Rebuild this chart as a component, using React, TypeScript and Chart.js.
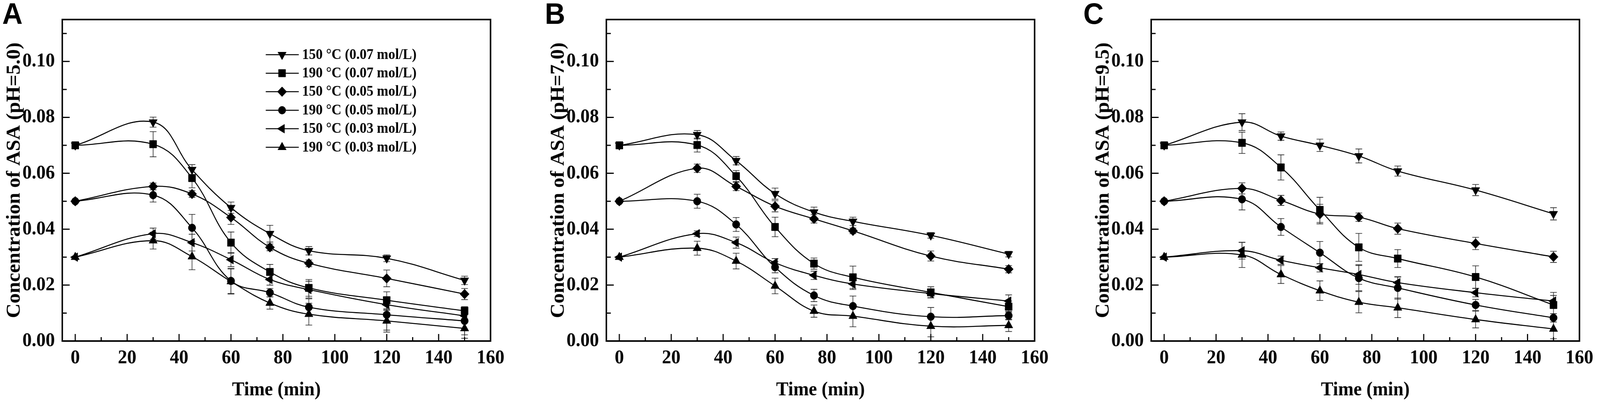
import { useEffect, useRef } from "react"
import { Chart, registerables } from "chart.js"
import { drawPoint } from "chart.js/helpers"

Chart.register(...registerables)

// sampling times (min)
const times = [0, 30, 45, 60, 75, 90, 120, 150]

const xTickValues = [0, 20, 40, 60, 80, 100, 120, 140, 160]
const xMinorValues = [10, 30, 50, 70, 90, 110, 130, 150]
const yTickValues = [0, 0.02, 0.04, 0.06, 0.08, 0.1]
const yMinorValues = [0.01, 0.03, 0.05, 0.07, 0.09, 0.11]

const seriesLabels = [
  "150 °C (0.07 mol/L)",
  "190 °C (0.07 mol/L)",
  "150 °C (0.05 mol/L)",
  "190 °C (0.05 mol/L)",
  "150 °C (0.03 mol/L)",
  "190 °C (0.03 mol/L)",
]

// pH = 5.0
const a150_07 = [0.07, 0.0783, 0.0613, 0.0477, 0.0384, 0.0323, 0.0296, 0.0217]
const a150_07Err = [0, 0.0018, 0.0018, 0.002, 0.003, 0.0015, 0.0012, 0.0015]
const a190_07 = [0.07, 0.0704, 0.0583, 0.0352, 0.0247, 0.019, 0.0146, 0.0108]
const a190_07Err = [0, 0.0045, 0.0035, 0.0038, 0.0027, 0.003, 0.003, 0.0015]
const a150_05 = [0.05, 0.0553, 0.0526, 0.0442, 0.0335, 0.0278, 0.0224, 0.0168]
const a150_05Err = [0, 0.0012, 0.0012, 0.0025, 0.0012, 0.0012, 0.003, 0.002]
const a190_05 = [0.05, 0.0522, 0.0405, 0.0215, 0.0173, 0.0121, 0.0094, 0.0072]
const a190_05Err = [0, 0.0025, 0.0048, 0.0045, 0.0015, 0.003, 0.0055, 0.005]
const a150_03 = [0.03, 0.0384, 0.0352, 0.0291, 0.022, 0.0184, 0.013, 0.009]
const a150_03Err = [0, 0.002, 0.003, 0.0025, 0.002, 0.003, 0.002, 0.002]
const a190_03 = [0.03, 0.0359, 0.0302, 0.0213, 0.0136, 0.0096, 0.0072, 0.0045]
const a190_03Err = [0, 0.003, 0.0047, 0.0045, 0.0022, 0.0039, 0.004, 0.0035]

// pH = 7.0
const b150_07 = [0.07, 0.0738, 0.0645, 0.0527, 0.0461, 0.0428, 0.0378, 0.0311]
const b150_07Err = [0, 0.0015, 0.0015, 0.002, 0.0018, 0.0015, 0.001, 0.001]
const b190_07 = [0.07, 0.0701, 0.059, 0.0408, 0.0277, 0.0228, 0.0174, 0.0123]
const b190_07Err = [0, 0.0025, 0.002, 0.0035, 0.002, 0.004, 0.002, 0.002]
const b150_05 = [0.05, 0.0618, 0.0553, 0.0482, 0.0437, 0.0394, 0.0304, 0.0257]
const b150_05Err = [0, 0.0015, 0.0015, 0.002, 0.0015, 0.001, 0.0018, 0.0013]
const b190_05 = [0.05, 0.05, 0.0417, 0.0264, 0.0163, 0.0125, 0.0087, 0.0091]
const b190_05Err = [0, 0.0025, 0.0025, 0.002, 0.0022, 0.0036, 0.0033, 0.0015]
const b150_03 = [0.03, 0.0384, 0.0352, 0.028, 0.0235, 0.0204, 0.017, 0.0143]
const b150_03Err = [0, 0.001, 0.002, 0.0015, 0.0015, 0.002, 0.0015, 0.0022]
const b190_03 = [0.03, 0.0332, 0.0286, 0.0197, 0.0107, 0.0089, 0.0053, 0.0056]
const b190_03Err = [0, 0.0025, 0.0028, 0.0028, 0.0022, 0.0038, 0.0038, 0.0022]

// pH = 9.5
const c150_07 = [0.07, 0.0783, 0.0733, 0.07, 0.0662, 0.0608, 0.054, 0.0455]
const c150_07Err = [0, 0.003, 0.0015, 0.0022, 0.0025, 0.0018, 0.002, 0.0022]
const c190_07 = [0.07, 0.0709, 0.0621, 0.0469, 0.0335, 0.0295, 0.0229, 0.0129]
const c190_07Err = [0, 0.0038, 0.0045, 0.0045, 0.005, 0.0032, 0.004, 0.0045]
const c150_05 = [0.05, 0.0546, 0.0503, 0.0454, 0.0443, 0.0402, 0.0349, 0.0301]
const c150_05Err = [0, 0.002, 0.0018, 0.0035, 0.0015, 0.002, 0.0022, 0.002]
const c190_05 = [0.05, 0.0507, 0.0408, 0.0316, 0.0225, 0.019, 0.0129, 0.0083]
const c190_05Err = [0, 0.0038, 0.003, 0.004, 0.0045, 0.004, 0.002, 0.0015]
const c150_03 = [0.03, 0.0323, 0.0289, 0.0262, 0.0238, 0.0209, 0.0173, 0.0143]
const c150_03Err = [0, 0.003, 0.0015, 0.0015, 0.0035, 0.002, 0.0015, 0.002]
const c190_03 = [0.03, 0.0308, 0.0238, 0.018, 0.0139, 0.0119, 0.0077, 0.0043]
const c190_03Err = [0, 0.0045, 0.0032, 0.0035, 0.0038, 0.0035, 0.003, 0.0035]

// marker styles per series
const markerStyles = ["triangle", "rect", "rectRot", "circle", "triangle", "triangle"]
const markerRotations = [180, 0, 0, 0, -90, 0]
const markerRadii = [13, 13.5, 12.5, 10, 13, 13]

const serif = "'Liberation Serif', 'Times New Roman', serif"

// the figure is laid out at 4317 px wide and squeezed to the window width
const FIG_W = 4317
const FIG_H = 1047

type PanelProps = {
  left: number
  yTitle: string
  values: number[][]
  errors: number[][]
  showLegend?: boolean
}

const frameTicks = {
  id: "frameTicks",
  afterDraw(chart: any) {
    const { ctx, chartArea: a, scales } = chart
    const x = scales.x
    const y = scales.y
    ctx.save()
    ctx.strokeStyle = "#000"
    ctx.lineWidth = 3
    ctx.beginPath()
    xTickValues.forEach((v) => {
      const px = x.getPixelForValue(v)
      ctx.moveTo(px, a.bottom)
      ctx.lineTo(px, a.bottom - 18)
    })
    xMinorValues.forEach((v) => {
      const px = x.getPixelForValue(v)
      ctx.moveTo(px, a.bottom)
      ctx.lineTo(px, a.bottom - 10)
    })
    yTickValues.forEach((v) => {
      const py = y.getPixelForValue(v)
      ctx.moveTo(a.left, py)
      ctx.lineTo(a.left + 20, py)
    })
    yMinorValues.forEach((v) => {
      const py = y.getPixelForValue(v)
      ctx.moveTo(a.left, py)
      ctx.lineTo(a.left + 12, py)
    })
    ctx.stroke()
    ctx.lineWidth = 4
    ctx.strokeRect(a.left, a.top, a.right - a.left, a.bottom - a.top)
    ctx.restore()
  },
}

const errorBars = {
  id: "errorBars",
  beforeDatasetsDraw(chart: any) {
    const { ctx, scales } = chart
    const y = scales.y
    ctx.save()
    ctx.strokeStyle = "#222"
    ctx.lineWidth = 1.6
    chart.data.datasets.forEach((ds: any, i: number) => {
      const meta = chart.getDatasetMeta(i)
      meta.data.forEach((pt: any, j: number) => {
        const e = ds.errors[j]
        if (!e) return
        const v = ds.data[j].y
        const top = y.getPixelForValue(v + e)
        const bot = y.getPixelForValue(v - e)
        ctx.beginPath()
        ctx.moveTo(pt.x, top)
        ctx.lineTo(pt.x, bot)
        ctx.moveTo(pt.x - 9, top)
        ctx.lineTo(pt.x + 9, top)
        ctx.moveTo(pt.x - 9, bot)
        ctx.lineTo(pt.x + 9, bot)
        ctx.stroke()
      })
    })
    ctx.restore()
  },
}

const insideLegend = {
  id: "insideLegend",
  afterDraw(chart: any) {
    const opts = chart.options.plugins.insideLegend
    if (!opts || !opts.display) return
    const { ctx, chartArea: a } = chart
    ctx.save()
    ctx.fillStyle = "#000"
    ctx.strokeStyle = "#000"
    ctx.font = `bold 37px ${serif}`
    ctx.textBaseline = "middle"
    chart.data.datasets.forEach((ds: any, i: number) => {
      const yy = a.top + 90 + i * 47.4
      const x0 = a.left + 549
      ctx.lineWidth = 2.5
      ctx.beginPath()
      ctx.moveTo(x0, yy)
      ctx.lineTo(x0 + 89, yy)
      ctx.stroke()
      ctx.lineWidth = 1
      drawPoint(
        ctx,
        {
          pointStyle: markerStyles[i],
          rotation: markerRotations[i],
          radius: markerRadii[i],
          borderWidth: 1,
        } as any,
        x0 + 44,
        yy
      )
      ctx.fillText(ds.label, x0 + 98, yy + 1)
    })
    ctx.restore()
  },
}

function Panel({ left, yTitle, values, errors, showLegend }: PanelProps) {
  const canvasRef = useRef<HTMLCanvasElement | null>(null)

  useEffect(() => {
    if (!canvasRef.current) return
    const tickFont = { family: serif, size: 50, weight: "bold" as const }

    const chart = new Chart(canvasRef.current, {
      type: "line",
      data: {
        datasets: values.map((vals, i) => ({
          label: seriesLabels[i],
          data: times.map((t, j) => ({ x: t, y: vals[j] })),
          errors: errors[i],
          borderColor: "#000",
          backgroundColor: "#000",
          borderWidth: 2.6,
          tension: 0.4,
          pointStyle: markerStyles[i] as any,
          rotation: markerRotations[i],
          pointRadius: markerRadii[i],
          pointBorderWidth: 1,
          pointBackgroundColor: "#000",
          pointBorderColor: "#000",
        })) as any,
      },
      options: {
        animation: false,
        responsive: false,
        events: [],
        layout: { padding: { top: 14, right: 40, left: 0, bottom: 0 } },
        plugins: {
          legend: { display: false },
          tooltip: { enabled: false },
          insideLegend: { display: !!showLegend },
        } as any,
        scales: {
          x: {
            type: "linear",
            min: -5,
            max: 160,
            afterBuildTicks: (s: any) => {
              s.ticks = xTickValues.map((v) => ({ value: v }))
            },
            afterFit: (s: any) => {
              s.height = 174
            },
            grid: { display: false, drawTicks: false },
            border: { display: false },
            ticks: {
              padding: 14,
              color: "#000",
              font: tickFont,
              maxRotation: 0,
              autoSkip: false,
              callback: (v: any) => String(v),
            },
            title: {
              display: true,
              text: "Time (min)",
              color: "#000",
              font: { family: serif, size: 50, weight: "bold" },
              padding: { top: 0, bottom: 18 },
            },
          },
          y: {
            min: 0,
            max: 0.115,
            afterBuildTicks: (s: any) => {
              s.ticks = yTickValues.map((v) => ({ value: v }))
            },
            afterFit: (s: any) => {
              s.width = 168
            },
            grid: { display: false, drawTicks: false },
            border: { display: false },
            ticks: {
              padding: 20,
              color: "#000",
              font: tickFont,
              autoSkip: false,
              callback: (v: any) => Number(v).toFixed(2),
            },
            title: {
              display: true,
              text: yTitle,
              color: "#000",
              font: { family: serif, size: 52, weight: "bold" },
              padding: { top: 8, bottom: 0 },
            },
          },
        },
      },
      plugins: [errorBars, frameTicks, insideLegend],
    })

    return () => chart.destroy()
  }, [])

  return (
    <div style={{ position: "absolute", left, top: 0 }}>
      <canvas ref={canvasRef} width={1375} height={FIG_H} />
    </div>
  )
}

const letterStyle = {
  position: "absolute" as const,
  top: -3,
  fontFamily: "'Liberation Sans', Arial, sans-serif",
  fontWeight: "bold" as const,
  fontSize: 76,
  lineHeight: 1,
  color: "#000",
}

export default function App() {
  useEffect(() => {
    document.body.style.margin = "0"
    document.body.style.overflow = "hidden"
  }, [])

  const sx = Math.min(1, window.innerWidth / FIG_W)

  return (
    <div style={{ position: "absolute", left: 0, top: 0, width: "100vw", height: FIG_H, overflow: "hidden", background: "#fff" }}>
      <div
        style={{
          position: "absolute",
          left: 0,
          top: 0,
          width: FIG_W,
          height: FIG_H,
          overflow: "hidden",
          background: "#fff",
          transform: `scaleX(${sx})`,
          transformOrigin: "0 0",
        }}
      >
        <Panel
          left={0}
          yTitle="Concentration of ASA (pH=5.0)"
          values={[a150_07, a190_07, a150_05, a190_05, a150_03, a190_03]}
          errors={[a150_07Err, a190_07Err, a150_05Err, a190_05Err, a150_03Err, a190_03Err]}
          showLegend
        />
        <Panel
          left={1468}
          yTitle="Concentration of ASA (pH=7.0)"
          values={[b150_07, b190_07, b150_05, b190_05, b150_03, b190_03]}
          errors={[b150_07Err, b190_07Err, b150_05Err, b190_05Err, b150_03Err, b190_03Err]}
        />
        <Panel
          left={2938}
          yTitle="Concentration of ASA (pH=9.5)"
          values={[c150_07, c190_07, c150_05, c190_05, c150_03, c190_03]}
          errors={[c150_07Err, c190_07Err, c150_05Err, c190_05Err, c150_03Err, c190_03Err]}
        />
        <div style={{ ...letterStyle, left: 6 }}>A</div>
        <div style={{ ...letterStyle, left: 1470 }}>B</div>
        <div style={{ ...letterStyle, left: 2923 }}>C</div>
      </div>
    </div>
  )
}
